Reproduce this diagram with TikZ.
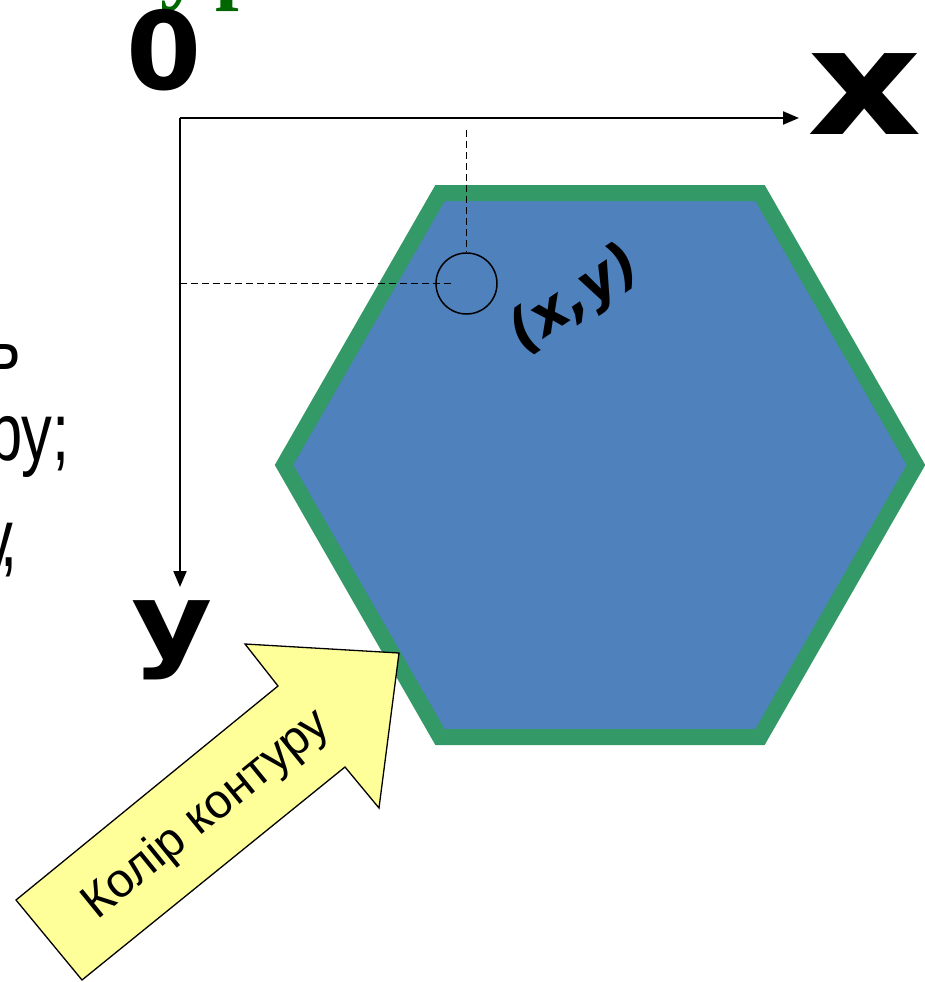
\documentclass[tikz,border=0pt]{standalone}
\usepackage{fontspec}
\usepackage{graphicx}
\setmainfont{DejaVu Sans}
\newfontfamily\serifbold{Liberation Serif}
\newfontfamily\arialfont{Liberation Sans}
\usetikzlibrary{arrows.meta}
\definecolor{hexgreen}{RGB}{51,153,102}
\definecolor{hexblue}{RGB}{79,129,189}
\definecolor{arrowyellow}{RGB}{255,255,153}
\definecolor{titlegreen}{RGB}{0,102,0}
\tikzset{
  axisline/.style={line width=2pt, -{Triangle[length=16pt,width=13pt]}},
  guideline/.style={line width=1.5pt, dash pattern=on 7pt off 4pt},
  bigbold/.style={font=\bfseries\fontsize{#1}{#1}\selectfont, inner sep=0pt},
  sidetext/.style={font=\arialfont\fontsize{82}{82}\selectfont, inner sep=0pt, anchor=base east},
  titlebit/.style={font=\serifbold\bfseries\fontsize{85}{85}\selectfont, text=titlegreen, inner sep=0pt, anchor=base west},
}
\begin{document}
\begin{tikzpicture}[x=1pt,y=-1pt]
\useasboundingbox (0,0) rectangle (925,982);
\clip (0,0) rectangle (925,982);
% cut title fragments
\node[titlebit] (t1) at (160,-6) {у};
\node[titlebit] (t2) at (215,-6) {р};
% cut side text
\node[sidetext] (s1) at (21,369) {\scalebox{0.75}[1]{ь}};
\node[sidetext] (s2) at (70,460) {\scalebox{0.75}[1]{ру;}};
\node[sidetext] (s3) at (18,566) {\scalebox{0.75}[1]{у\kern-0.2em,}};
% hexagon
\draw[line width=16pt, draw=hexgreen, fill=hexblue, line join=miter]
  (440,193) -- (760,193) -- (916,465) -- (760,737) -- (440,737) -- (284,465) -- cycle;
% axes
\coordinate (O) at (180,118);
\coordinate (xend) at (799,118);
\coordinate (yend) at (180,587);
\draw[axisline] (O) -- (xend);
\draw[axisline] (O) -- (yend);
\node[bigbold=108] (olab) at (164,50) {0};
\node[bigbold=148] (xlab) at (865,94) {\scalebox{1.2}[1]{x}};
\node[bigbold=104] (ylab) at (172,640) {\scalebox{1.2}[1]{y}};
% point
\node[circle, draw, line width=1.5pt, minimum size=61pt, inner sep=0pt] (pt) at (466.5,283.5) {};
\coordinate (vtop) at (466.5,130);
\coordinate (hleft) at (180,283.5);
\coordinate (hright) at (452,283.5);
\draw[guideline] (vtop) -- (pt.north);
\draw[guideline] (hleft) -- (hright);
\node[font=\bfseries\itshape\fontsize{56}{56}\selectfont, rotate=34, inner sep=0pt] (xy) at (575,300) {(x,y)};
% block arrow
\draw[line width=1.3pt, fill=arrowyellow, line join=miter]
  (16,900) -- (278,686) -- (245,644) -- (399,653) -- (379,808) -- (345,767) -- (82,980) -- cycle;
\node[font=\arialfont\fontsize{48}{48}\selectfont, rotate=39.1, inner sep=0pt] (lab) at (207,815) {Колір контуру};
\end{tikzpicture}
\end{document}
